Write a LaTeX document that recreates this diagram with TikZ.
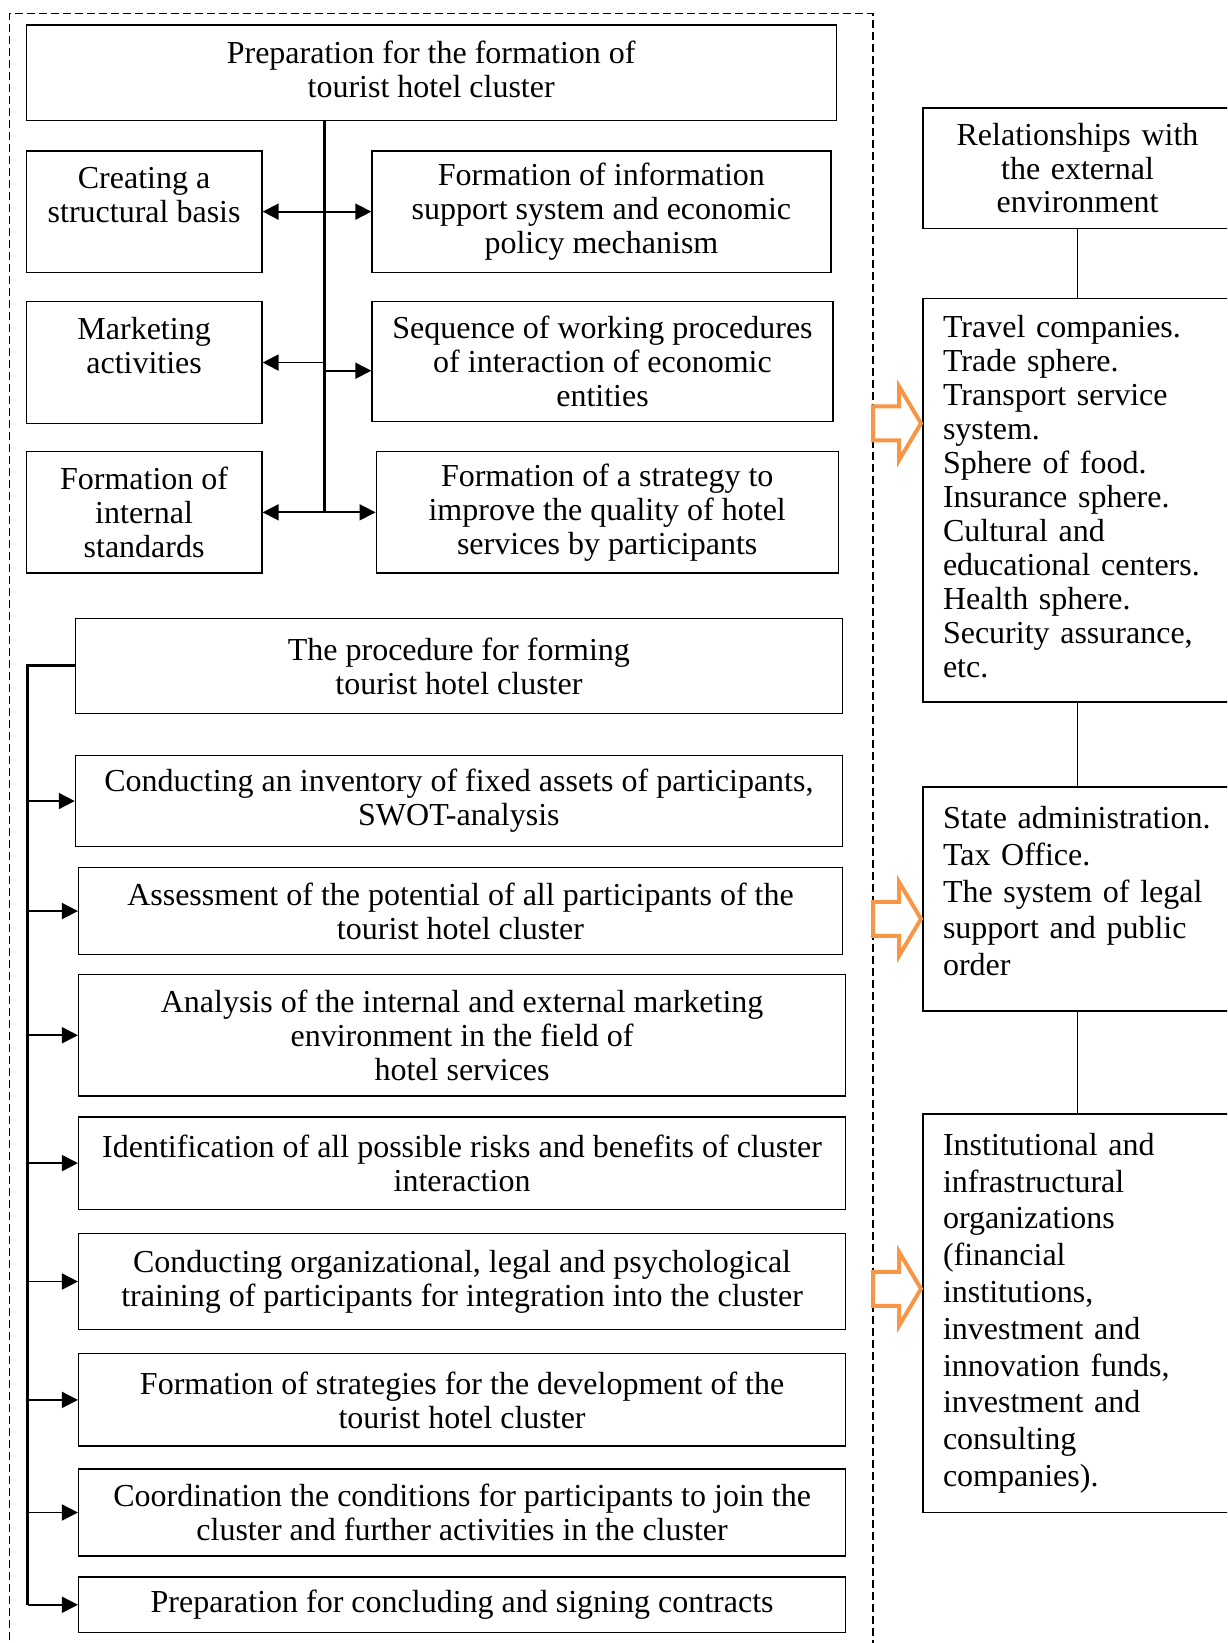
\documentclass[tikz,border=0pt]{standalone}
\usepackage{fontspec}
\setmainfont{Liberation Serif}
\usetikzlibrary{arrows.meta,calc}
\definecolor{orng}{HTML}{F79646}
\begin{document}
\begin{tikzpicture}[x=0.5pt,y=-0.5pt,
  box/.style={draw, line width=0.65pt, inner sep=0pt, align=center, font=\fontsize{16pt}{17pt}\selectfont},
  rbox/.style={draw, line width=0.65pt, inner xsep=10pt, inner ysep=0pt, text width=134.5pt, align=left, minimum width=154.5pt},
  conn/.style={line width=0.9pt, -{Triangle[length=8pt,width=8pt]}},
  dconn/.style={line width=0.9pt, {Triangle[length=8pt,width=8pt]}-{Triangle[length=8pt,width=8pt]}},
  spine/.style={line width=1.5pt, line join=miter},
  hollow/.style={draw=orng, line width=2pt, line join=miter, miter limit=10},
  frame/.style={line width=0.75pt, dash pattern=on 4pt off 2pt}
]
\useasboundingbox (0,0) rectangle (1227,1643);
\clip (0,0) rectangle (1227,1643);

% dashed frame
\draw[frame] (9.4,1700) -- (9.4,13.6) -- (873,13.6) -- (873,1700);

% ---------- upper block ----------
\node[box, minimum width=405pt, minimum height=47.7pt] (top) at (431.2,72.8)
  {Preparation for the formation of\\tourist hotel cluster\\[-13pt]\mbox{}};

\node[box, minimum width=117.9pt, minimum height=60.75pt] (B1) at (144.1,211.65)
  {Creating a\\structural basis\\\mbox{}};
\node[box, minimum width=117.9pt, minimum height=60.75pt] (B2) at (144.1,362.55)
  {Marketing\\activities\\\mbox{}};
\node[box, minimum width=117.9pt, minimum height=60.75pt] (B3) at (144.1,512.35)
  {Formation of\\internal\\standards};

\node[box, minimum width=229.45pt, minimum height=60.75pt] (R1) at (601.45,211.65)
  {Formation of information\\support system and economic\\policy mechanism};
\node[box, minimum width=230.5pt, minimum height=59.7pt] (R2) at (602.5,361.5)
  {Sequence of working procedures\\of interaction of economic\\entities};
\node[box, minimum width=231pt, minimum height=60.75pt] (R3) at (607.2,512.35)
  {Formation of a strategy to\\improve the quality of hotel\\services by participants};

\coordinate (vb) at (324,512.35);
\coordinate (r2a) at (324,370.7);
\draw[spine] (top.south -| vb) -- (vb);
\draw[dconn] (B1.east) -- (R1.west);
\draw[conn] (B2.east -| vb) -- (B2.east);
\draw[conn] (r2a) -- (r2a -| R2.west);
\draw[dconn] (B3.east) -- (R3.west);

% ---------- lower block ----------
\node[box, minimum width=383.5pt, minimum height=47.7pt] (P) at (458.9,665.9)
  {The procedure for forming\\tourist hotel cluster};

\node[box, minimum width=383.5pt, minimum height=45.55pt] (S1) at (458.9,801.05)
  {Conducting an inventory of fixed assets of participants,\\SWOT-analysis};
\node[box, minimum width=381.9pt, minimum height=43.45pt] (S2) at (460.5,911.05)
  {Assessment of the potential of all participants of the\\tourist hotel cluster};
\node[box, minimum width=383.5pt, minimum height=60.75pt] (S3) at (462.1,1035.25)
  {Analysis of the internal and external marketing\\environment in the field of\\hotel services};
\node[box, minimum width=383.5pt, minimum height=46.1pt] (S4) at (462.1,1163.1)
  {Identification of all possible risks and benefits of cluster\\interaction};
\node[box, minimum width=383.5pt, minimum height=48.2pt] (S5) at (462.1,1281.5)
  {Conducting organizational, legal and psychological\\training of participants for integration into the cluster};
\node[box, minimum width=383.5pt, minimum height=46.1pt] (S6) at (462.1,1399.9)
  {Formation of strategies for the development of the\\tourist hotel cluster};
\node[box, minimum width=383.5pt, minimum height=43.5pt] (S7) at (462.1,1512.5)
  {Coordination the conditions for participants to join the\\cluster and further activities in the cluster};
\node[box, minimum width=383.5pt, minimum height=27.75pt] (S8) at (462.1,1604.75)
  {Preparation for concluding and signing contracts};

\coordinate (sb) at (27.5,1604.75);
\draw[spine] (P.west) -- (P.west -| sb) -- (sb);
\foreach \s in {S1,S2,S3,S4,S5,S6,S7,S8}
  \draw[conn] (\s.west -| sb) -- (\s.west);

% ---------- right column ----------
\node[rbox, align=center, minimum height=60.25pt, font=\fontsize{16pt}{16.75pt}\selectfont] (Rel) at (1077.5,168.15)
  {Relationships with\\the external\\environment};
\node[rbox, minimum height=201.7pt, font=\fontsize{16pt}{17pt}\selectfont] (Tr) at (1077.5,500.3)
  {Travel companies.\\Trade sphere.\\Transport service\\system.\\Sphere of food.\\Insurance sphere.\\Cultural and\\\mbox{educational centers.}\\Health sphere.\\\mbox{Security assurance,}\\etc.\\[-13pt]\mbox{}};
\node[rbox, minimum height=112.05pt, font=\fontsize{16pt}{18.4pt}\selectfont] (St) at (1077.5,898.95)
  {\mbox{State administration.}\\Tax Office.\\The system of legal\\support and public\\order\\[-10.4pt]\mbox{}};
\node[rbox, minimum height=199.25pt, font=\fontsize{16pt}{18.4pt}\selectfont] (In) at (1077.5,1313.25)
  {Institutional and\\infrastructural\\organizations\\(financial\\institutions,\\investment and\\\mbox{innovation funds,}\\investment and\\consulting\\companies).};

\draw[line width=0.85pt] (Rel.south) -- (Tr.north);
\draw[line width=0.85pt] (Tr.south) -- (St.north);
\draw[line width=0.85pt] (St.south) -- (In.north);

% orange hollow arrows
\foreach \yy in {423.3, 918.9, 1288.8}
  \draw[hollow] (873,\yy-17) -- (899,\yy-17) -- (899,\yy-37) -- (921,\yy)
     -- (899,\yy+37) -- (899,\yy+17) -- (873,\yy+17) -- cycle;
\end{tikzpicture}
\end{document}
